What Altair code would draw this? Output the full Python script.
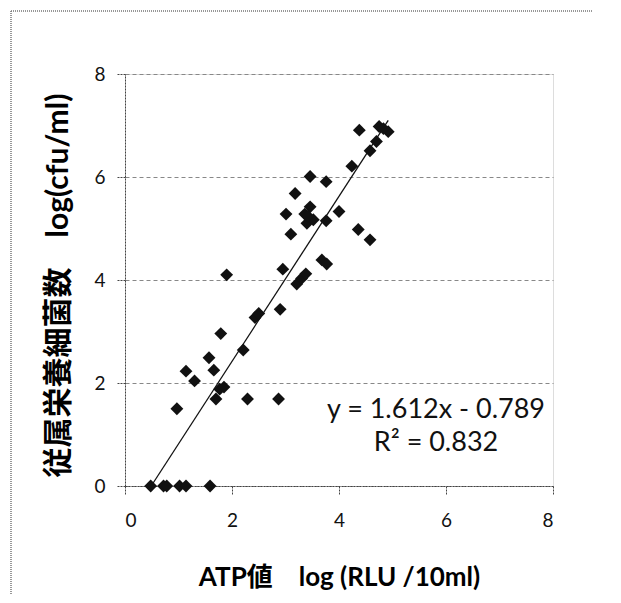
import altair as alt
import pandas as pd

# ATP value log(RLU/10ml)  vs  heterotrophic bacteria count log(cfu/ml)
atp = [0.48, 0.72, 0.78, 1.02, 1.14, 1.59,
       0.97, 1.14, 1.30, 1.57, 1.66, 1.70, 1.77, 1.85, 1.79, 1.90,
       2.21, 2.29, 2.43, 2.50, 2.87, 2.90, 2.95, 3.01, 3.10, 3.18,
       3.21, 3.30, 3.38, 3.46, 3.46, 3.36, 3.40, 3.52, 3.42, 3.76,
       3.76, 3.68, 3.77, 4.00, 4.24, 4.36, 4.58, 4.38, 4.58, 4.70,
       4.75, 4.92, 4.83]
cfu = [0.0, 0.0, 0.0, 0.0, 0.0, 0.0,
       1.50, 2.23, 2.04, 2.49, 2.25, 1.69, 1.88, 1.92, 2.96, 4.10,
       2.64, 1.69, 3.27, 3.35, 1.69, 3.43, 4.21, 5.28, 4.89, 5.68,
       3.92, 4.03, 4.12, 6.01, 5.42, 5.28, 5.10, 5.17, 5.24, 5.91,
       5.15, 4.39, 4.31, 5.33, 6.21, 4.98, 4.78, 6.91, 6.51, 6.69,
       6.98, 6.88, 6.94]

trend_x = [0.49, 4.92]
trend_y = [0.0, 7.10]

tick_values = [0, 2, 4, 6, 8]
eq_lines = ["y = 1.612x - 0.789", "R\u00b2 = 0.832"]

x_title = "ATP値　log (RLU /10ml)"
y_title = "従属栄養細菌数　log(cfu/ml)"

pts = pd.DataFrame({"atp": atp, "cfu": cfu})
trend = pd.DataFrame({"atp": trend_x, "cfu": trend_y})

FONT = "Lato, 'Noto Sans CJK JP', sans-serif"

xs = alt.Scale(domain=[0, 8], nice=False)
ys = alt.Scale(domain=[0, 8], nice=False)

x_axis = alt.Axis(
    values=tick_values, title=x_title, grid=False,
    tickSize=8, labelPadding=17, labelFontSize=19, labelFont=FONT,
    labelColor="#111", domainColor="#444", domainDash=[2, 1],
    tickColor="#444", tickDash=[2, 1],
    titleFont=FONT, titleFontSize=26, titleFontWeight="bold", titleColor="#000",
    titleX=214, titleY=91, titleAnchor="middle", titleBaseline="middle",
)
y_axis = alt.Axis(
    values=tick_values, title=y_title, grid=True,
    gridColor="#888", gridDash=[4, 3], gridWidth=1,
    tickSize=8, labelPadding=12, labelFontSize=19, labelFont=FONT,
    labelColor="#111", domainColor="#444", domainDash=[2, 1],
    tickColor="#444", tickDash=[2, 1],
    titleFont=FONT, titleFontSize=30, titleFontWeight="bold", titleColor="#000",
    titleX=-67, titleY=211, titleAngle=270, titleAlign="center", titleBaseline="middle",
)

points = alt.Chart(pts).mark_point(
    shape="diamond", filled=True, color="#111", size=165, opacity=1
).encode(
    x=alt.X("atp:Q", scale=xs, axis=x_axis),
    y=alt.Y("cfu:Q", scale=ys, axis=y_axis),
)

line = alt.Chart(trend).mark_line(color="#111", strokeWidth=1.3).encode(
    x=alt.X("atp:Q", scale=xs),
    y=alt.Y("cfu:Q", scale=ys),
)

eq1 = alt.Chart(alt.Data(values=[{"t": eq_lines[0]}])).mark_text(
    font=FONT, fontSize=27, color="#111", align="center", baseline="middle"
).encode(text="t:N", x=alt.value(311), y=alt.value(336))

eq2 = alt.Chart(alt.Data(values=[{"t": eq_lines[1]}])).mark_text(
    font=FONT, fontSize=27, color="#111", align="center", baseline="middle"
).encode(text="t:N", x=alt.value(311), y=alt.value(369))

frame_left = alt.Chart(alt.Data(values=[{"a": 1}])).mark_rule(
    color="#777", strokeDash=[1, 1], strokeWidth=1.5
).encode(x=alt.value(-114), y=alt.value(-63), y2=alt.value(530))

frame_top = alt.Chart(alt.Data(values=[{"a": 1}])).mark_rule(
    color="#777", strokeDash=[1, 1], strokeWidth=1.5
).encode(x=alt.value(-114), x2=alt.value(500), y=alt.value(-63))

chart = alt.layer(frame_left, frame_top, line, points, eq1, eq2).properties(
    width=428, height=412,
    autosize=alt.AutoSizeParams(type="none"),
    padding={"left": 117, "top": 66, "right": 40, "bottom": 108},
).configure_view(stroke=None).configure(background="white")

chart.save("out.html", embed_options={"renderer": "svg", "actions": False})
